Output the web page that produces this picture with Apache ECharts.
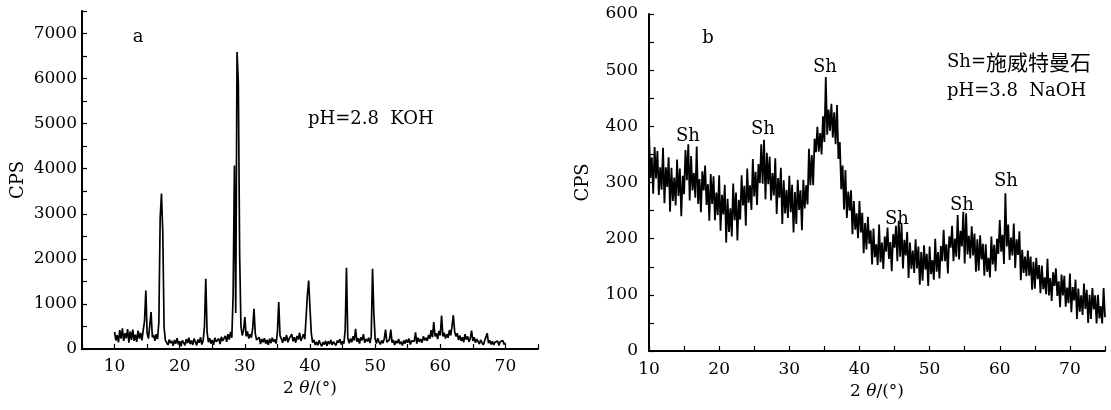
<!DOCTYPE html>
<html>
<head>
<meta charset="utf-8">
<script src="https://cdn.jsdelivr.net/npm/echarts@6/dist/echarts.min.js"></script>
<style>
html,body{margin:0;padding:0;background:#fff;}
#c{width:1111px;height:410px;}
</style>
</head>
<body>
<div id="c"></div>
<script>
// Panel a: 2θ from 10 to 70 in 0.2° steps
var aStart = 10, aStep = 0.2;
var cpsA = [
380,190,310,150,420, 230,460,180,350,240, 440,140,390,200,430, 180,320,160,410,230,
360,190,420,620,1300, 350,230,520,820,260, 310,180,330,220,600, 2900,3450,2600,480,190,
160,90,210,130,180, 70,200,120,240,100, 170,60,190,140,80, 220,130,250,110,190,
90,230,160,80,210, 140,260,100,190,500, 1560,380,150,240,120, 200,90,250,160,130,
230,110,270,180,140, 290,160,330,210,380, 250,1200,4070,800,6590, 5900,2100,500,300,420,
710,280,390,230,330, 250,450,890,340,200, 170,260,110,220,150, 240,120,200,90,230,
130,250,160,210,120, 380,1040,290,230,140, 260,180,310,150,230, 200,330,170,260,140,
290,210,360,180,250, 330,220,700,1200,1520, 900,350,140,200,90, 160,80,190,120,60,
150,100,180,70,170, 110,200,90,160,130, 80,190,140,220,100, 170,120,420,1800,250,
130,230,150,280,190, 450,160,240,120,260, 190,330,140,220,170, 250,130,280,1780,800,
220,120,240,160,100, 190,130,230,430,150, 120,210,430,140,200, 90,180,130,220,110,
160,80,190,120,210, 140,230,100,180,150, 170,370,120,250,160, 220,140,280,190,250,
180,310,230,420,260, 600,280,350,220,400, 300,740,280,360,230, 330,250,420,300,500,
750,390,280,350,200, 300,180,260,150,330, 210,280,160,230,410, 180,260,140,220,170,
110,200,140,90,180, 150,350,130,190,100, 170,90,150,110,180, 80,160,120,190,100,
140
];
// Panel b: 2θ from 10 to 75 in 0.2° steps
var bStart = 10, bStep = 0.2;
var cpsB = [
392,308,345,280,363, 307,356,278,327,287, 362,263,327,292,345, 248,326,267,309,259,
341,276,325,240,312, 279,358,304,368,268, 347,286,317,273,364, 262,306,247,320,286,
330,260,297,232,315, 262,311,233,282,242, 313,214,278,243,296, 193,271,212,254,204,
298,233,282,197,269, 234,313,259,294,223, 325,264,295,251,342, 275,319,260,333,299,
368,298,376,270,353, 297,346,268,317,277, 343,244,308,273,326, 226,304,245,287,237,
312,247,296,211,283, 226,305,251,286,215, 305,254,295,261,360, 295,349,295,378,354,
399,355,388,350,418, 372,488,385,430,392, 440,380,425,368,438, 342,372,288,330,252,
322,237,284,250,286, 208,267,216,245,201, 267,211,246,174,228, 181,239,191,215,154,
218,167,190,153,225, 158,193,146,204,177, 220,164,194,142,208, 184,223,160,232,168,
226,147,198,170,212, 130,193,146,179,139, 199,147,186,118,176, 125,188,145,173,116,
186,137,162,127,200, 141,176,129,187,160, 216,160,190,138,204, 184,223,160,200,168,
242,163,214,186,248, 156,245,172,205,165, 222,170,209,141,199, 143,206,163,191,134,
190,141,166,131,204, 154,189,142,200,173, 233,177,207,155,281, 186,225,162,202,170,
227,148,199,171,213, 126,180,139,168,133, 179,134,168,109,159, 111,166,128,153,103,
152,110,131,101,164, 99,130,89,140,116, 147,98,124,78,136, 99,134,79,113,85,
138,69,114,90,127, 57,111,70,99,64, 120,75,109,50,100, 57,112,74,99,49,
100,58,80,49,112, 60
];
var xTicksA = [10,20,30,40,50,60,70];
var yTicksA = [0,1000,2000,3000,4000,5000,6000,7000];
var xTicksB = [10,20,30,40,50,60,70];
var yTicksB = [0,100,200,300,400,500,600];
var shLabels = ['Sh','Sh','Sh','Sh','Sh','Sh'];

function pairs(start, step, arr){
  return arr.map(function(v,i){ return [+(start + i*step).toFixed(2), v]; });
}
function fmt(list){ return function(v){ return list.indexOf(v) >= 0 ? String(v) : ''; }; }

var FONT = '"DejaVu Serif", "Liberation Serif", "Noto Sans CJK SC", serif';
var axisLineStyle = {lineStyle:{color:'#000', width:2}};
var tickStyle = {show:true, inside:true, length:5, lineStyle:{color:'#000', width:1.2}};
var lbl = function(list, margin){ return {color:'#000', fontFamily:FONT, fontSize:17, margin:margin, formatter:fmt(list)}; };
var nameStyle = {color:'#000', fontFamily:FONT, fontSize:17, rich:{i:{fontFamily:FONT, fontSize:17, fontStyle:'italic', color:'#000'}}};

var chart = echarts.init(document.getElementById('c'), null, {renderer:'canvas'});
chart.setOption({
  animation:false,
  backgroundColor:'#fff',
  grid:[
    {left:82, right:573, top:11, bottom:61},
    {left:649, right:6, top:14, bottom:59}
  ],
  xAxis:[
    {gridIndex:0, type:'value', min:5, max:75, interval:5,
     axisLine:axisLineStyle, axisTick:tickStyle, splitLine:{show:false},
     axisLabel:lbl(xTicksA, 9),
     name:'2 {i|θ}/(°)', nameLocation:'middle', nameGap:30, nameTextStyle:nameStyle},
    {gridIndex:1, type:'value', min:10, max:75, interval:5,
     axisLine:axisLineStyle, axisTick:tickStyle, splitLine:{show:false},
     axisLabel:lbl(xTicksB, 10),
     name:'2 {i|θ}/(°)', nameLocation:'middle', nameGap:28, nameTextStyle:nameStyle}
  ],
  yAxis:[
    {gridIndex:0, type:'value', min:0, max:7500, interval:500,
     axisLine:{show:true, lineStyle:{color:'#000', width:2}}, axisTick:tickStyle, splitLine:{show:false},
     axisLabel:lbl(yTicksA, 5),
     name:'CPS', nameLocation:'middle', nameGap:55, nameRotate:90,
     nameTextStyle:{color:'#000', fontFamily:FONT, fontSize:18}},
    {gridIndex:1, type:'value', min:0, max:600, interval:50,
     axisLine:{show:true, lineStyle:{color:'#000', width:2}}, axisTick:tickStyle, splitLine:{show:false},
     axisLabel:lbl(yTicksB, 11),
     name:'CPS', nameLocation:'middle', nameGap:57, nameRotate:90,
     nameTextStyle:{color:'#000', fontFamily:FONT, fontSize:18}}
  ],
  series:[
    {type:'line', xAxisIndex:0, yAxisIndex:0, data:pairs(aStart, aStep, cpsA),
     showSymbol:false, symbol:'none', lineStyle:{color:'#000', width:1.7}},
    {type:'line', xAxisIndex:1, yAxisIndex:1, data:pairs(bStart, bStep, cpsB),
     showSymbol:false, symbol:'none', lineStyle:{color:'#000', width:1.8}}
  ]
});

// annotations
var txt = function(x, y, s, extra){
  var st = {text:s, x:x, y:y, fill:'#000', font:'18px ' + FONT, textAlign:'center', textVerticalAlign:'middle'};
  if (extra) for (var k in extra) st[k] = extra[k];
  return {type:'text', style:st, silent:true};
};
var shPos = [[688,136],[763,129],[825,67],[897,219],[962,205],[1006,181]];
var g = [
  txt(138, 37, 'a'),
  txt(308, 119, 'pH=2.8  KOH', {textAlign:'left'}),
  txt(708, 38, 'b'),
  txt(947, 91, 'pH=3.8  NaOH', {textAlign:'left'}),
  {type:'text', silent:true, style:{x:947, y:62, textVerticalAlign:'middle', textAlign:'left',
    text:'{a|Sh=}{c|施威特曼石}',
    rich:{a:{fontFamily:FONT, fontSize:18, fill:'#000', color:'#000'}, c:{fontFamily:'"Noto Sans CJK SC"', fontSize:21, fill:'#000', color:'#000'}}}}
];
shPos.forEach(function(p, i){ g.push(txt(p[0], p[1], shLabels[i])); });
chart.setOption({graphic:g});
</script>
</body>
</html>
